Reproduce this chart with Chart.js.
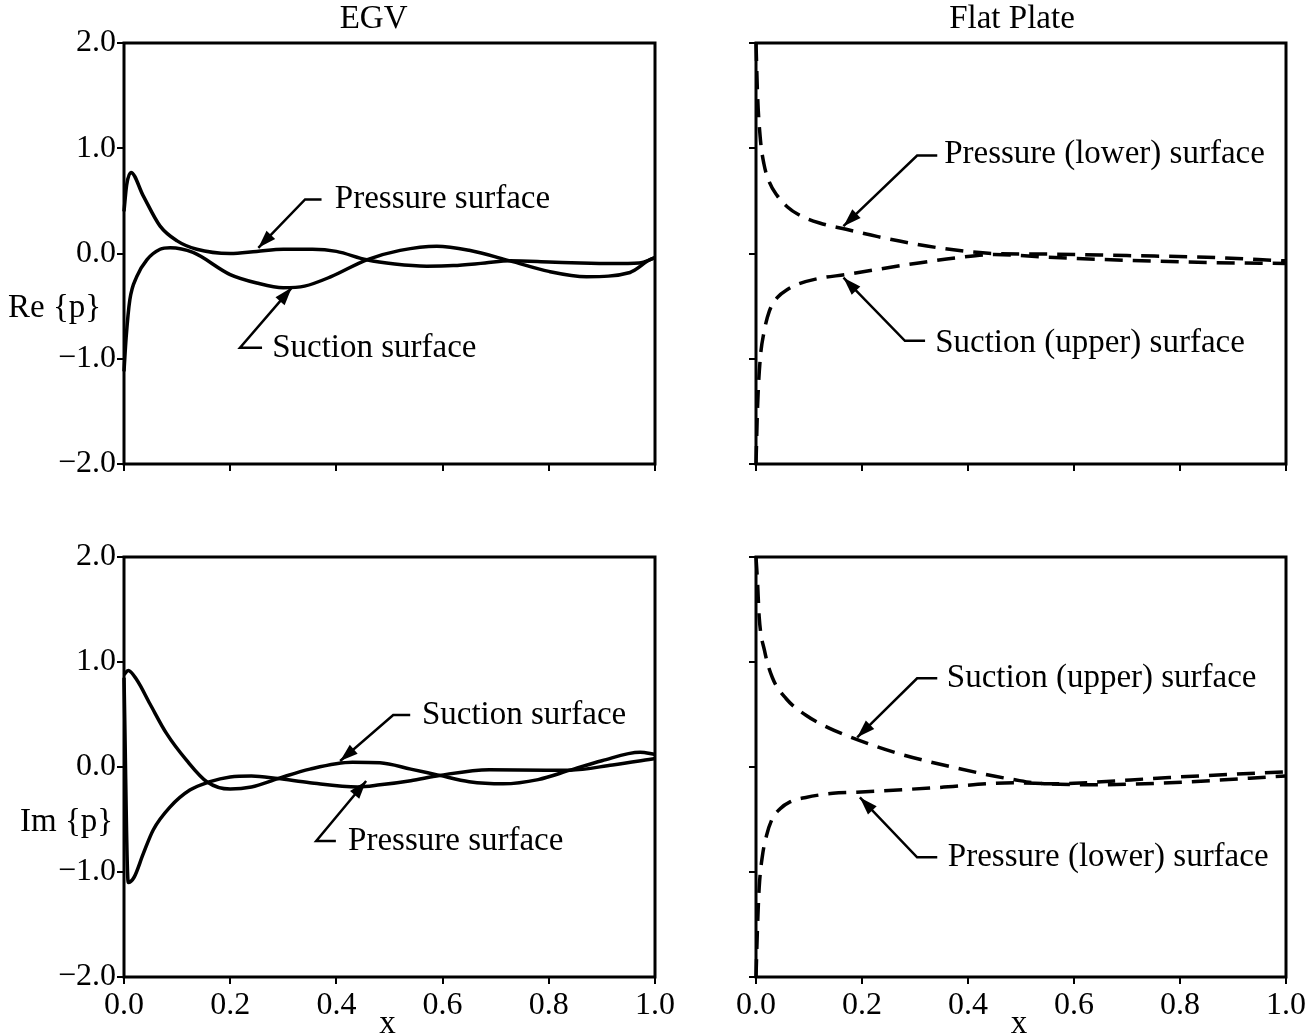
<!DOCTYPE html>
<html>
<head>
<meta charset="utf-8">
<script src="https://cdn.jsdelivr.net/npm/chart.js@4.4.0/dist/chart.umd.min.js"></script>
<style>
  body { margin: 0; background: #fff; }
  #wrap { position: relative; width: 1316px; height: 1036px; background: #fff; }
  canvas { position: absolute; }
</style>
</head>
<body>
<div id="wrap">
  <canvas id="reEgv" width="700" height="515" style="left:0;top:0"></canvas>
  <canvas id="reFlat" width="616" height="515" style="left:700px;top:0"></canvas>
  <canvas id="imEgv" width="700" height="521" style="left:0;top:515px"></canvas>
  <canvas id="imFlat" width="616" height="521" style="left:700px;top:515px"></canvas>
</div>
<script>
// ---- data ----
const xTicks = [0, 0.2, 0.4, 0.6, 0.8, 1.0];
const yTicks = [-2, -1, 0, 1, 2];

// EGV, Re{p}
const reEgvPressX = [0, 0.005, 0.013, 0.036, 0.068, 0.1, 0.137, 0.2, 0.25, 0.3, 0.355, 0.4, 0.457, 0.51, 0.57, 0.62, 0.68, 0.727, 0.8, 0.86, 0.92, 0.97, 1.0];
const reEgvPressY = [0.4, 0.65, 0.77, 0.55, 0.26, 0.12, 0.04, 0.0, 0.02, 0.04, 0.04, 0.02, -0.06, -0.1, -0.12, -0.115, -0.09, -0.07, -0.08, -0.09, -0.095, -0.09, -0.04];
const reEgvSuctX = [0, 0.004, 0.011, 0.024, 0.043, 0.068, 0.087, 0.13, 0.2, 0.25, 0.3, 0.34, 0.39, 0.457, 0.52, 0.589, 0.65, 0.727, 0.8, 0.871, 0.953, 0.99, 1.0];
const reEgvSuctY = [-1.12, -0.8, -0.44, -0.22, -0.06, 0.04, 0.055, 0.01, -0.2, -0.28, -0.325, -0.31, -0.22, -0.06, 0.03, 0.07, 0.03, -0.07, -0.17, -0.22, -0.18, -0.06, -0.04];

// Flat plate, Re{p}
const reFlatPressX = [0, 0.003, 0.008, 0.015, 0.025, 0.04, 0.06, 0.08, 0.12, 0.17, 0.23, 0.3, 0.38, 0.45, 0.55, 0.7, 0.85, 1.0];
const reFlatPressY = [2.0, 1.5, 1.1, 0.85, 0.68, 0.55, 0.44, 0.37, 0.29, 0.23, 0.16, 0.09, 0.03, 0.0, -0.005, -0.02, -0.035, -0.07];
const reFlatSuctX = [0, 0.003, 0.008, 0.015, 0.025, 0.04, 0.06, 0.08, 0.12, 0.17, 0.23, 0.3, 0.38, 0.45, 0.55, 0.7, 0.85, 1.0];
const reFlatSuctY = [-2.0, -1.45, -1.0, -0.75, -0.55, -0.42, -0.34, -0.29, -0.235, -0.2, -0.15, -0.095, -0.04, -0.01, -0.035, -0.065, -0.085, -0.095];

// EGV, Im{p}
const imEgvSuctX = [0, 0.008, 0.024, 0.049, 0.08, 0.118, 0.156, 0.2, 0.24, 0.29, 0.35, 0.43, 0.482, 0.54, 0.594, 0.65, 0.714, 0.78, 0.84, 0.9, 0.972, 1.0];
const imEgvSuctY = [0.88, 0.92, 0.83, 0.6, 0.32, 0.063, -0.14, -0.21, -0.19, -0.11, -0.02, 0.045, 0.04, -0.02, -0.08, -0.14, -0.16, -0.12, -0.03, 0.06, 0.14, 0.12];
const imEgvPressX = [0, 0.008, 0.019, 0.036, 0.055, 0.087, 0.124, 0.162, 0.2, 0.24, 0.29, 0.35, 0.44, 0.482, 0.54, 0.594, 0.688, 0.795, 0.84, 0.92, 1.0];
const imEgvPressY = [0.85, -1.1, -1.05, -0.83, -0.6, -0.38, -0.22, -0.14, -0.095, -0.085, -0.11, -0.15, -0.19, -0.17, -0.13, -0.08, -0.025, -0.03, -0.03, 0.02, 0.08];

// Flat plate, Im{p}
const imFlatSuctX = [0, 0.003, 0.006, 0.016, 0.031, 0.057, 0.095, 0.138, 0.176, 0.263, 0.375, 0.486, 0.55, 0.6, 0.78, 1.0];
const imFlatSuctY = [2.0, 1.75, 1.43, 1.11, 0.85, 0.65, 0.49, 0.37, 0.29, 0.137, -0.006, -0.12, -0.16, -0.155, -0.1, -0.045];
const imFlatPressX = [0, 0.003, 0.006, 0.012, 0.02, 0.03, 0.045, 0.065, 0.094, 0.145, 0.19, 0.34, 0.486, 0.55, 0.634, 0.78, 1.0];
const imFlatPressY = [-2.0, -1.5, -1.15, -0.85, -0.65, -0.5, -0.4, -0.33, -0.29, -0.25, -0.24, -0.197, -0.15, -0.16, -0.17, -0.15, -0.085];

const FONT = "'Liberation Serif', 'Times New Roman', serif";

function pts(xs, ys) {
    return xs.map((x, i) => ({ x: x, y: ys[i] }));
}

function fmtTick(v) {
    const s = Math.abs(v).toFixed(1);
    return v < -1e-9 ? "\u2212" + s : s;
}

// frame, titles, arrows and labels
const extras = {
    id: "extras",
    afterDraw(chart) {
        const ctx = chart.ctx;
        const a = chart.chartArea;
        const o = chart.options.plugins.extras;
        const sx = chart.scales.x, sy = chart.scales.y;
        ctx.save();
        ctx.strokeStyle = "#000";
        ctx.fillStyle = "#000";
        ctx.lineWidth = 3;
        ctx.strokeRect(a.left, a.top, a.right - a.left, a.bottom - a.top);

        ctx.font = "33px " + FONT;
        ctx.textBaseline = "middle";
        if (o.title) {
            ctx.textAlign = "center";
            ctx.fillText(o.title, a.left + o.titlePos * (a.right - a.left), a.top - 24);
        }
        if (o.ylab) {
            ctx.textAlign = "left";
            ctx.fillText(o.ylab.text, o.ylab.x, o.ylab.y);
        }
        if (o.xlab) {
            ctx.textAlign = "center";
            ctx.fillText("x", sx.getPixelForValue(0.5) - 2, a.bottom + 47);
        }

        ctx.lineWidth = 2.5;
        (o.notes || []).forEach(n => {
            ctx.textAlign = "left";
            ctx.fillText(n.text, sx.getPixelForValue(n.tx), sy.getPixelForValue(n.ty));
            const p = n.path.map(q => [sx.getPixelForValue(q[0]), sy.getPixelForValue(q[1])]);
            ctx.beginPath();
            ctx.moveTo(p[0][0], p[0][1]);
            for (let i = 1; i < p.length; i++) ctx.lineTo(p[i][0], p[i][1]);
            ctx.stroke();
            // arrow head at last point
            const t = p[p.length - 1], f = p[p.length - 2];
            const ang = Math.atan2(t[1] - f[1], t[0] - f[0]);
            const L = 18, W = 6;
            ctx.beginPath();
            ctx.moveTo(t[0], t[1]);
            ctx.lineTo(t[0] - L * Math.cos(ang) + W * Math.sin(ang), t[1] - L * Math.sin(ang) - W * Math.cos(ang));
            ctx.lineTo(t[0] - L * Math.cos(ang) - W * Math.sin(ang), t[1] - L * Math.sin(ang) + W * Math.cos(ang));
            ctx.closePath();
            ctx.fill();
        });
        ctx.restore();
    }
};

function panel(id, cfg) {
    const axisFont = { family: FONT, size: 32 };
    const series = cfg.series.map(s => ({
        data: pts(s[0], s[1]),
        borderColor: "#000",
        borderWidth: 3.5,
        borderDash: cfg.dashed ? [18, 10] : [],
        pointRadius: 0,
        fill: false,
        cubicInterpolationMode: "monotone",
        clip: 3
    }));
    return new Chart(document.getElementById(id), {
        type: "line",
        data: { datasets: series },
        options: {
            responsive: false,
            animation: false,
            layout: { padding: { top: cfg.top, right: cfg.right, left: 0, bottom: 0 } },
            plugins: {
                legend: { display: false },
                tooltip: { enabled: false },
                extras: cfg.extras
            },
            scales: {
                x: {
                    type: "linear",
                    min: 0, max: 1,
                    afterBuildTicks: s => { s.ticks = xTicks.map(v => ({ value: v })); },
                    ticks: {
                        color: "#000",
                        font: axisFont,
                        padding: 2,
                        maxRotation: 0,
                        autoSkip: false,
                        callback: v => cfg.xLabels ? fmtTick(v) : ""
                    },
                    grid: { drawOnChartArea: false, tickLength: 7, color: "#000", lineWidth: 2 },
                    border: { display: false },
                    afterFit: s => { s.height = cfg.xh; }
                },
                y: {
                    type: "linear",
                    min: -2, max: 2,
                    afterBuildTicks: s => { s.ticks = yTicks.map(v => ({ value: v })); },
                    ticks: {
                        color: "#000",
                        font: axisFont,
                        padding: 1,
                        autoSkip: false,
                        callback: v => cfg.yLabels ? fmtTick(v) : ""
                    },
                    grid: { drawOnChartArea: false, tickLength: 7, color: "#000", lineWidth: 2 },
                    border: { display: false },
                    afterFit: s => { s.width = cfg.yw; }
                }
            }
        },
        plugins: [extras]
    });
}

panel("reEgv", {
    series: [[reEgvPressX, reEgvPressY], [reEgvSuctX, reEgvSuctY]],
    top: 43, right: 45, yw: 124, xh: 51,
    xLabels: false, yLabels: true,
    extras: {
        title: "EGV", titlePos: 0.47,
        ylab: { text: "Re {p}", x: 8, y: 308 },
        notes: [
            { text: "Pressure surface", tx: 0.397, ty: 0.514, path: [[0.372, 0.514], [0.341, 0.514], [0.253, 0.054]] },
            { text: "Suction surface", tx: 0.279, ty: -0.905, path: [[0.26, -0.895], [0.2185, -0.895], [0.316, -0.324]] }
        ]
    }
});

panel("reFlat", {
    series: [[reFlatPressX, reFlatPressY], [reFlatSuctX, reFlatSuctY]],
    dashed: true,
    top: 43, right: 30, yw: 56, xh: 51,
    xLabels: false, yLabels: false,
    extras: {
        title: "Flat Plate", titlePos: 0.483,
        notes: [
            { text: "Pressure (lower) surface", tx: 0.355, ty: 0.945, path: [[0.342, 0.93], [0.304, 0.93], [0.165, 0.26]] },
            { text: "Suction (upper) surface", tx: 0.338, ty: -0.85, path: [[0.319, -0.83], [0.281, -0.83], [0.165, -0.23]] }
        ]
    }
});

panel("imEgv", {
    series: [[imEgvSuctX, imEgvSuctY], [imEgvPressX, imEgvPressY]],
    top: 42, right: 45, yw: 124, xh: 59,
    xLabels: true, yLabels: true,
    extras: {
        ylab: { text: "Im {p}", x: 20, y: 307 },
        xlab: true,
        notes: [
            { text: "Suction surface", tx: 0.561, ty: 0.495, path: [[0.539, 0.495], [0.507, 0.495], [0.407, 0.057]] },
            { text: "Pressure surface", tx: 0.422, ty: -0.705, path: [[0.399, -0.705], [0.362, -0.705], [0.456, -0.133]] }
        ]
    }
});

panel("imFlat", {
    series: [[imFlatSuctX, imFlatSuctY], [imFlatPressX, imFlatPressY]],
    dashed: true,
    top: 42, right: 30, yw: 56, xh: 59,
    xLabels: true, yLabels: false,
    extras: {
        xlab: true,
        notes: [
            { text: "Suction (upper) surface", tx: 0.36, ty: 0.845, path: [[0.342, 0.845], [0.304, 0.845], [0.191, 0.283]] },
            { text: "Pressure (lower) surface", tx: 0.362, ty: -0.86, path: [[0.342, -0.86], [0.304, -0.86], [0.196, -0.29]] }
        ]
    }
});
</script>
</body>
</html>
